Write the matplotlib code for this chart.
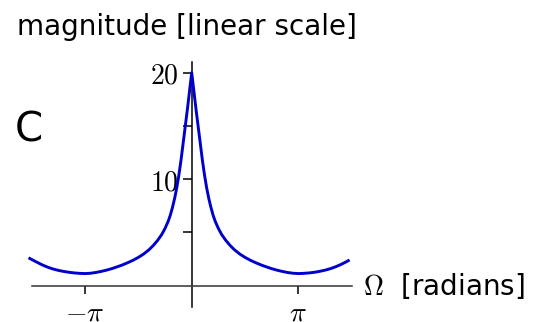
import numpy as np
import matplotlib
matplotlib.use("Agg")
import matplotlib.pyplot as plt

plt.rcParams['mathtext.fontset'] = 'cm'
plt.rcParams['font.family'] = ['DejaVu Sans']

# Frequency (in units of pi) and magnitude
omega_over_pi = [-1.53, -1.45, -1.40, -1.35, -1.30, -1.25, -1.20, -1.15, -1.10,
                 -1.05, -1.00, -0.95, -0.90, -0.85, -0.80, -0.75, -0.70, -0.65,
                 -0.60, -0.55, -0.50, -0.45, -0.40, -0.36, -0.32, -0.28, -0.25,
                 -0.22, -0.20, -0.18, -0.16, -0.14, -0.12, -0.10, -0.08, -0.06,
                 -0.04, -0.02, 0.00,
                 0.02, 0.04, 0.06, 0.08, 0.10, 0.12, 0.14, 0.16, 0.18, 0.20,
                 0.22, 0.25, 0.28, 0.32, 0.36, 0.40, 0.45, 0.50, 0.55, 0.60,
                 0.65, 0.70, 0.75, 0.80, 0.85, 0.90, 0.95, 1.00, 1.05, 1.10,
                 1.15, 1.20, 1.25, 1.30, 1.35, 1.40, 1.45, 1.48]
magnitude = [2.62, 2.20, 1.95, 1.74, 1.57, 1.44, 1.34, 1.26, 1.20,
             1.16, 1.14, 1.17, 1.24, 1.34, 1.46, 1.60, 1.77, 1.95,
             2.16, 2.39, 2.66, 2.98, 3.38, 3.78, 4.25, 4.82, 5.38,
             6.06, 6.64, 7.36, 8.20, 9.20, 10.40, 11.80, 13.40, 15.00,
             16.60, 18.30, 20.00,
             18.30, 16.60, 15.00, 13.40, 11.80, 10.40, 9.20, 8.20, 7.36, 6.64,
             6.06, 5.38, 4.82, 4.25, 3.78, 3.38, 2.98, 2.66, 2.39, 2.16,
             1.95, 1.77, 1.60, 1.46, 1.34, 1.24, 1.17, 1.14, 1.16, 1.20,
             1.26, 1.35, 1.46, 1.60, 1.78, 2.00, 2.25, 2.42]

y_ticks = [5, 10, 15, 20]
y_tick_labels = ["", r"$10$", "", r"$20$"]
x_ticks_over_pi = [-1, 1]
x_tick_labels = [r"$-\pi$", r"$\pi$"]

W, H = 535, 322
fig = plt.figure(figsize=(W / 100, H / 100), dpi=100)
ax = fig.add_axes([31.7 / W, (H - 306.7) / H, 320 / W, 245 / H])
ax.patch.set_alpha(0)

omega = np.array(omega_over_pi) * np.pi
ax.plot(omega, magnitude, color='#0000cd', lw=2.1, clip_on=False,
        solid_capstyle='butt', solid_joinstyle='round', zorder=3)

ax.set_xlim(-1.5 * np.pi, 1.5 * np.pi)
ax.set_ylim(-1.97, 21.03)

for s in ['top', 'right']:
    ax.spines[s].set_visible(False)
ax.spines['left'].set_position(('data', 0))
ax.spines['bottom'].set_position(('data', 0))
ax.spines['left'].set_linewidth(1.1)
ax.spines['bottom'].set_linewidth(1.1)
ax.spines['bottom'].set_color('#333333')

ax.set_yticks(y_ticks)
ax.set_yticklabels(y_tick_labels)
ax.set_xticks(np.array(x_ticks_over_pi) * np.pi)
ax.set_xticklabels(x_tick_labels)
ax.tick_params(axis='y', direction='out', length=6.2, width=1.1, pad=3.5,
               labelsize=20)
ax.tick_params(axis='x', direction='out', length=6.0, width=1.1, pad=3,
               labelsize=20)

fig.text(16.7 / W, 1 - 35 / H, "magnitude [linear scale]",
         fontsize=20, ha='left', va='baseline')
fig.text(15 / W, 1 - 141.7 / H, "C", fontsize=29, ha='left', va='baseline')
fig.text(362.7 / W, 1 - 295 / H, r"$\Omega$  [radians]", fontsize=20,
         ha='left', va='baseline')

fig.savefig("out.png", dpi=100)
